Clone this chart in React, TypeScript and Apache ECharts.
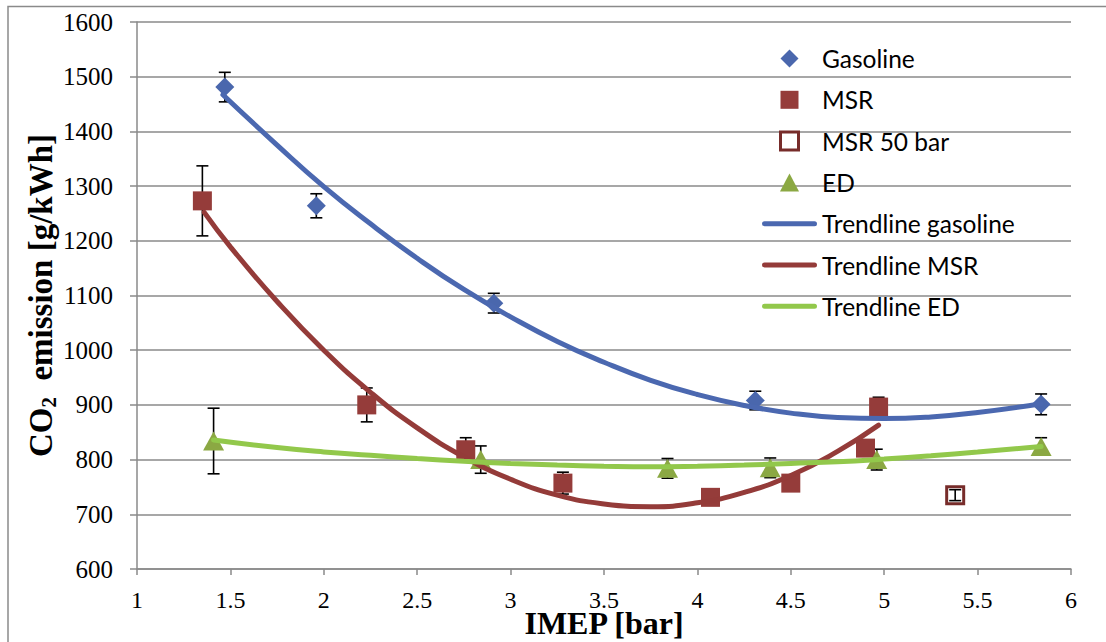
import React, { useEffect, useRef } from "react";
import * as echarts from "echarts";

// ---- data ----
const gasX = [1.47, 1.96, 2.91, 4.31, 5.84];
const gasY = [1481, 1264, 1086, 908, 901];
const gasErr = [27, 22, 18, 17, 19];

const msrX = [1.35, 2.23, 2.76, 3.28, 4.07, 4.5, 4.9, 4.97];
const msrY = [1273, 900, 818, 757, 731, 757, 821, 896];
const msrErr = [64, 31, 22, 20, 10, 10, 13, 18];

const msr50X = [5.38];
const msr50Y = [735];
const msr50Err = [10];

const edX = [1.41, 2.84, 3.84, 4.39, 4.96, 5.84];
const edY = [834, 800, 784, 785, 800, 824];
const edErr = [60, 25, 18, 18, 19, 16];

// trendline curves
const trendGasX = [1.46, 1.75, 2.0, 2.25, 2.5, 2.75, 3.0, 3.25, 3.5, 3.75, 4.0, 4.25, 4.5, 4.75, 5.0, 5.25, 5.5, 5.84];
const trendGasY = [1467, 1375, 1299, 1231, 1168, 1111, 1061, 1016, 978, 945, 919, 899, 885, 877, 875, 878, 886, 902];

const trendMsrX = [1.36, 1.5, 1.75, 2.0, 2.25, 2.5, 2.75, 3.0, 3.25, 3.5, 3.75, 4.0, 4.25, 4.5, 4.75, 4.97];
const trendMsrY = [1252, 1189, 1089, 1000, 923, 858, 805, 764, 735, 719, 714, 721, 740, 771, 815, 863];

const trendEdX = [1.41, 1.75, 2.0, 2.25, 2.5, 2.75, 3.0, 3.25, 3.5, 3.75, 4.0, 4.25, 4.5, 4.75, 5.0, 5.25, 5.5, 5.84];
const trendEdY = [836, 822, 814, 808, 802, 797, 793, 790, 788, 787, 788, 790, 793, 796, 801, 807, 814, 824];

const xTicks = { min: 1, max: 6, interval: 0.5 };
const yTicks = { min: 600, max: 1600, interval: 100 };

const ICON_DIAMOND = "path://M9,0 L18,9 L9,18 L0,9 Z";
const ICON_SQUARE = "path://M0,0 L18,0 L18,18 L0,18 Z";
const ICON_TRIANGLE = "path://M9,0 L18,17 L0,17 Z";
const ICON_LINE = "path://M2.5,0 L52.5,0 A2.5,2.5 0 0 1 52.5,5 L2.5,5 A2.5,2.5 0 0 1 2.5,0 Z";

const legendItems = [
  { name: "Gasoline", icon: ICON_DIAMOND },
  { name: "MSR", icon: ICON_SQUARE },
  { name: "MSR 50 bar", icon: ICON_SQUARE },
  { name: "ED", icon: ICON_TRIANGLE },
  { name: "Trendline gasoline", icon: ICON_LINE },
  { name: "Trendline MSR", icon: ICON_LINE },
  { name: "Trendline ED", icon: ICON_LINE },
];

const pairs = (xs: number[], ys: number[]) => xs.map((x, i) => [x, ys[i]]);
const errRows = (xs: number[], ys: number[], es: number[]) =>
  xs.map((x, i) => [x, ys[i] - es[i], ys[i] + es[i]]);

const errorBarRows = [
  ...errRows(gasX, gasY, gasErr),
  ...errRows(msrX, msrY, msrErr),
  ...errRows(msr50X, msr50Y, msr50Err),
  ...errRows(edX, edY, edErr),
];

const GRAY = "#8a8a8a";
const SERIF = "'Liberation Serif', 'Times New Roman', serif";

export default function App() {
  const ref = useRef<HTMLDivElement>(null);

  useEffect(() => {
    if (!ref.current) return;
    const chart = echarts.init(ref.current, undefined, { renderer: "svg" });
    const option: any = {
      animation: false,
      backgroundColor: "#ffffff",
      grid: {
        left: 137,
        right: 35,
        top: 22,
        bottom: 73,
        containLabel: false,
        outerBoundsMode: "none",
      },
      graphic: [
        {
          type: "rect",
          shape: { x: 8, y: 6.5, width: 1120, height: 660 },
          style: { fill: "none", stroke: GRAY, lineWidth: 1.5 },
          silent: true,
          z: -10,
        },
      ],
      legend: {
        orient: "vertical",
        left: 757,
        top: 41,
        itemWidth: 55,
        itemHeight: 18,
        itemGap: 16.3,
        symbolKeepAspect: true,
        data: legendItems.map((d) =>
          d.name === "MSR 50 bar"
            ? {
                ...d,
                itemStyle: { color: "#ffffff", borderColor: "#772c2a", borderWidth: 3 },
              }
            : d
        ),
        textStyle: {
          fontFamily: "Lato, 'Open Sans', sans-serif",
          fontSize: 24.5,
          color: "#000",
        },
      },
      xAxis: {
        type: "value",
        min: xTicks.min,
        max: xTicks.max,
        interval: xTicks.interval,
        name: "IMEP [bar]",
        nameLocation: "middle",
        nameGap: 40,
        nameMoveOverlap: false,
        nameTextStyle: {
          fontFamily: SERIF,
          fontWeight: "bold",
          fontSize: 32,
          lineHeight: 28,
          color: "#000",
        },
        axisLine: { show: true, lineStyle: { color: GRAY, width: 1.5 } },
        axisTick: { show: true, length: 6, lineStyle: { color: GRAY, width: 1.5 } },
        axisLabel: {
          fontFamily: SERIF,
          fontSize: 24,
          lineHeight: 18,
          color: "#000",
          margin: 22,
          formatter: (v: number) => String(v),
        },
        splitLine: { show: false },
      },
      yAxis: {
        type: "value",
        min: yTicks.min,
        max: yTicks.max,
        interval: yTicks.interval,
        name: "{a|CO}{b|2}{a|  emission [g/kWh]}",
        nameLocation: "middle",
        nameGap: 78,
        nameMoveOverlap: false,
        nameTextStyle: {
          fontFamily: SERIF,
          fontWeight: "bold",
          fontSize: 33,
          color: "#000",
          rich: {
            a: {
              fontFamily: SERIF,
              fontWeight: "bold",
              fontSize: 33,
              lineHeight: 36,
              color: "#000",
            },
            b: {
              fontFamily: SERIF,
              fontWeight: "bold",
              fontSize: 21,
              lineHeight: 20,
              verticalAlign: "bottom",
              color: "#000",
            },
          },
        },
        axisLine: { show: true, lineStyle: { color: GRAY, width: 1.5 } },
        axisTick: { show: true, length: 7, lineStyle: { color: GRAY, width: 1.5 } },
        axisLabel: {
          fontFamily: SERIF,
          fontSize: 25,
          color: "#000",
          margin: 24,
          formatter: (v: number) => String(v),
        },
        splitLine: { show: true, lineStyle: { color: GRAY, width: 1.5 } },
      },
      series: [
        {
          type: "custom",
          name: "errorbars",
          z: 1,
          silent: true,
          data: errorBarRows,
          encode: { x: 0, y: [1, 2] },
          renderItem: (params: any, api: any) => {
            const x = api.value(0);
            const lo = api.coord([x, api.value(1)]);
            const hi = api.coord([x, api.value(2)]);
            const hw = 6;
            const st = { stroke: "#000", lineWidth: 1.6 };
            return {
              type: "group",
              children: [
                { type: "line", shape: { x1: lo[0], y1: lo[1], x2: hi[0], y2: hi[1] }, style: st },
                { type: "line", shape: { x1: lo[0] - hw, y1: lo[1], x2: lo[0] + hw, y2: lo[1] }, style: st },
                { type: "line", shape: { x1: hi[0] - hw, y1: hi[1], x2: hi[0] + hw, y2: hi[1] }, style: st },
              ],
            };
          },
        },
        {
          type: "scatter",
          name: "Gasoline",
          z: 3,
          symbol: "diamond",
          symbolSize: 19,
          itemStyle: { color: "#4a67ad", opacity: 1 },
          data: pairs(gasX, gasY),
        },
        {
          type: "scatter",
          name: "MSR",
          z: 3,
          symbol: "rect",
          symbolSize: 19,
          itemStyle: { color: "#953c3a", opacity: 1 },
          data: pairs(msrX, msrY),
        },
        {
          type: "scatter",
          name: "MSR 50 bar",
          z: 3,
          symbol: "rect",
          symbolSize: 17,
          itemStyle: {
            color: "rgba(255,255,255,0)",
            borderColor: "#772c2a",
            borderWidth: 3,
            opacity: 1,
          },
          data: pairs(msr50X, msr50Y),
        },
        {
          type: "scatter",
          name: "ED",
          z: 3,
          symbol: "triangle",
          symbolSize: [21, 19],
          itemStyle: { color: "#8ba843", opacity: 1 },
          data: pairs(edX, edY),
        },
        {
          type: "line",
          name: "Trendline gasoline",
          z: 4,
          symbol: "none",
          smooth: true,
          lineStyle: { color: "#4b68b0", width: 5, cap: "round" },
          itemStyle: { color: "#4b68b0" },
          data: pairs(trendGasX, trendGasY),
        },
        {
          type: "line",
          name: "Trendline MSR",
          z: 4,
          symbol: "none",
          smooth: true,
          lineStyle: { color: "#943b39", width: 5, cap: "round" },
          itemStyle: { color: "#943b39" },
          data: pairs(trendMsrX, trendMsrY),
        },
        {
          type: "line",
          name: "Trendline ED",
          z: 4,
          symbol: "none",
          smooth: true,
          lineStyle: { color: "#92c84b", width: 5, cap: "round" },
          itemStyle: { color: "#92c84b" },
          data: pairs(trendEdX, trendEdY),
        },
      ],
    };
    chart.setOption(option);
    return () => chart.dispose();
  }, []);

  return (
    <div
      ref={ref}
      style={{ position: "fixed", left: 0, top: 0, width: 1106, height: 642, background: "#fff" }}
    />
  );
}
